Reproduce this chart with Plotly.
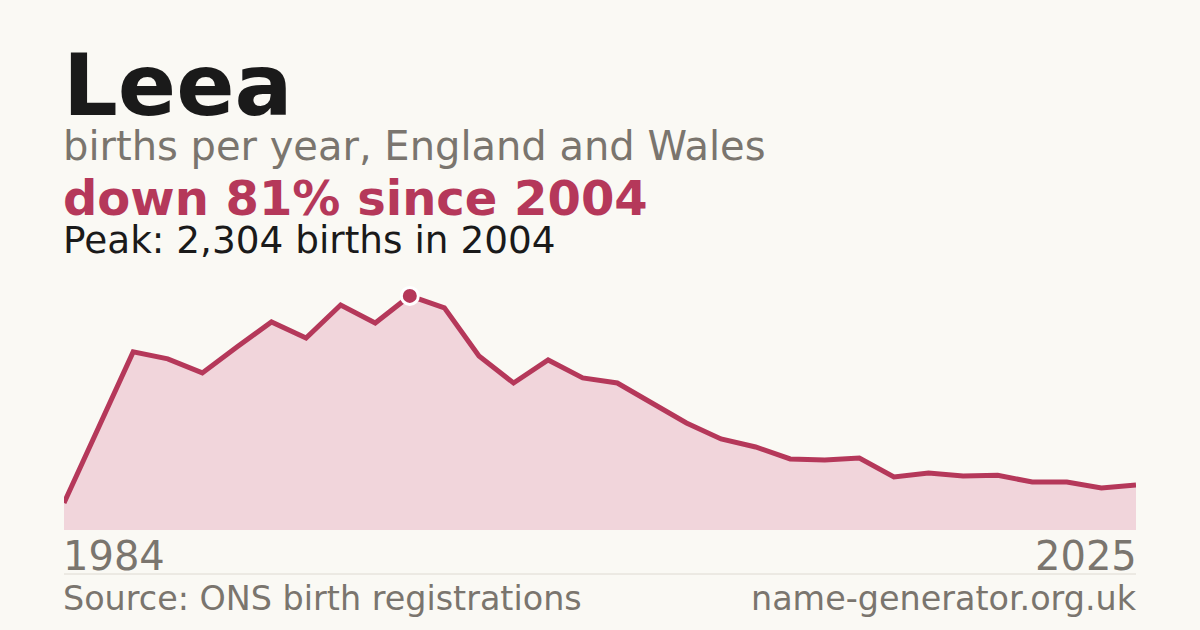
import plotly.graph_objects as go

# Leea - births per year, England and Wales
years = [1984] + list(range(1995, 2026))
births = [266, 1014, 1753, 1684, 1546, 1802, 2048, 1890, 2215, 2038,
          2304, 2186, 1713, 1447, 1674, 1497, 1447, 1250, 1054, 896,
          817, 699, 689, 709, 522, 561, 532, 538, 473, 473,
          414, 443]

peak_year = 2004
peak_value = 2304
first_label = "1984"
last_label = "2025"

RED = "#b5385a"
FILL = "#f1d5db"
BG = "#faf9f4"
GREY = "#7a756e"
INK = "#1a1a1a"
FONT = "DejaVu Sans"

# plot area in pixels
W, H = 1200, 630
TOP, BOTTOM = 280, 530


def py(y):
    # pixel row -> paper coordinate
    return (BOTTOM - y) / (BOTTOM - TOP)


idx = list(range(len(years)))
peak_i = years.index(peak_year)

fig = go.Figure()
fig.add_trace(go.Scatter(
    x=idx, y=births, mode="lines",
    line=dict(color=RED, width=5),
    fill="tozeroy", fillcolor=FILL,
    hoverinfo="skip",
))
fig.add_trace(go.Scatter(
    x=[peak_i], y=[peak_value], mode="markers",
    marker=dict(color=RED, size=17, line=dict(color="white", width=3)),
    hoverinfo="skip",
))

texts = [
    ("Leea", 86, INK, True, 85),
    ("births per year, England and Wales", 40, GREY, False, 146),
    ("down 81% since 2004", 48, RED, True, 198),
    ("Peak: 2,304 births in 2004", 37.4, INK, False, 240),
]
for txt, size, col, bold, ymid in texts:
    fig.add_annotation(
        text="<b>" + txt + "</b>" if bold else txt,
        xref="paper", yref="paper", x=0, y=py(ymid), xshift=-3,
        xanchor="left", yanchor="middle", showarrow=False,
        font=dict(family=FONT, size=size, color=col),
    )

# axis end labels
fig.add_annotation(text=first_label, xref="paper", yref="paper", x=0, y=py(556),
                   xshift=-3, xanchor="left", yanchor="middle", showarrow=False,
                   font=dict(family=FONT, size=40, color=GREY))
fig.add_annotation(text=last_label, xref="paper", yref="paper", x=1, y=py(556),
                   xshift=3, xanchor="right", yanchor="middle", showarrow=False,
                   font=dict(family=FONT, size=40, color=GREY))

# footer
fig.add_annotation(text="Source: ONS birth registrations", xref="paper", yref="paper",
                   x=0, y=py(598), xshift=-3, xanchor="left", yanchor="middle",
                   showarrow=False, font=dict(family=FONT, size=33.4, color=GREY))
fig.add_annotation(text="name-generator.org.uk", xref="paper", yref="paper",
                   x=1, y=py(598), xshift=3, xanchor="right", yanchor="middle",
                   showarrow=False, font=dict(family=FONT, size=33.4, color=GREY))
fig.add_shape(type="line", xref="paper", yref="paper", x0=0, x1=1,
              y0=py(574), y1=py(574), line=dict(color="#dedad2", width=1))

fig.update_xaxes(range=[0, len(years) - 1], visible=False)
fig.update_yaxes(range=[0, peak_value * 1.068], visible=False)
fig.update_layout(
    width=W, height=H,
    margin=dict(l=64, r=64, t=TOP, b=H - BOTTOM),
    paper_bgcolor=BG, plot_bgcolor=BG,
    showlegend=False,
)

# drop the browser's default body margin so the figure sits at 0,0
fig.write_html("out.html", config={"displayModeBar": False},
               post_script="document.body.style.margin='0';")
